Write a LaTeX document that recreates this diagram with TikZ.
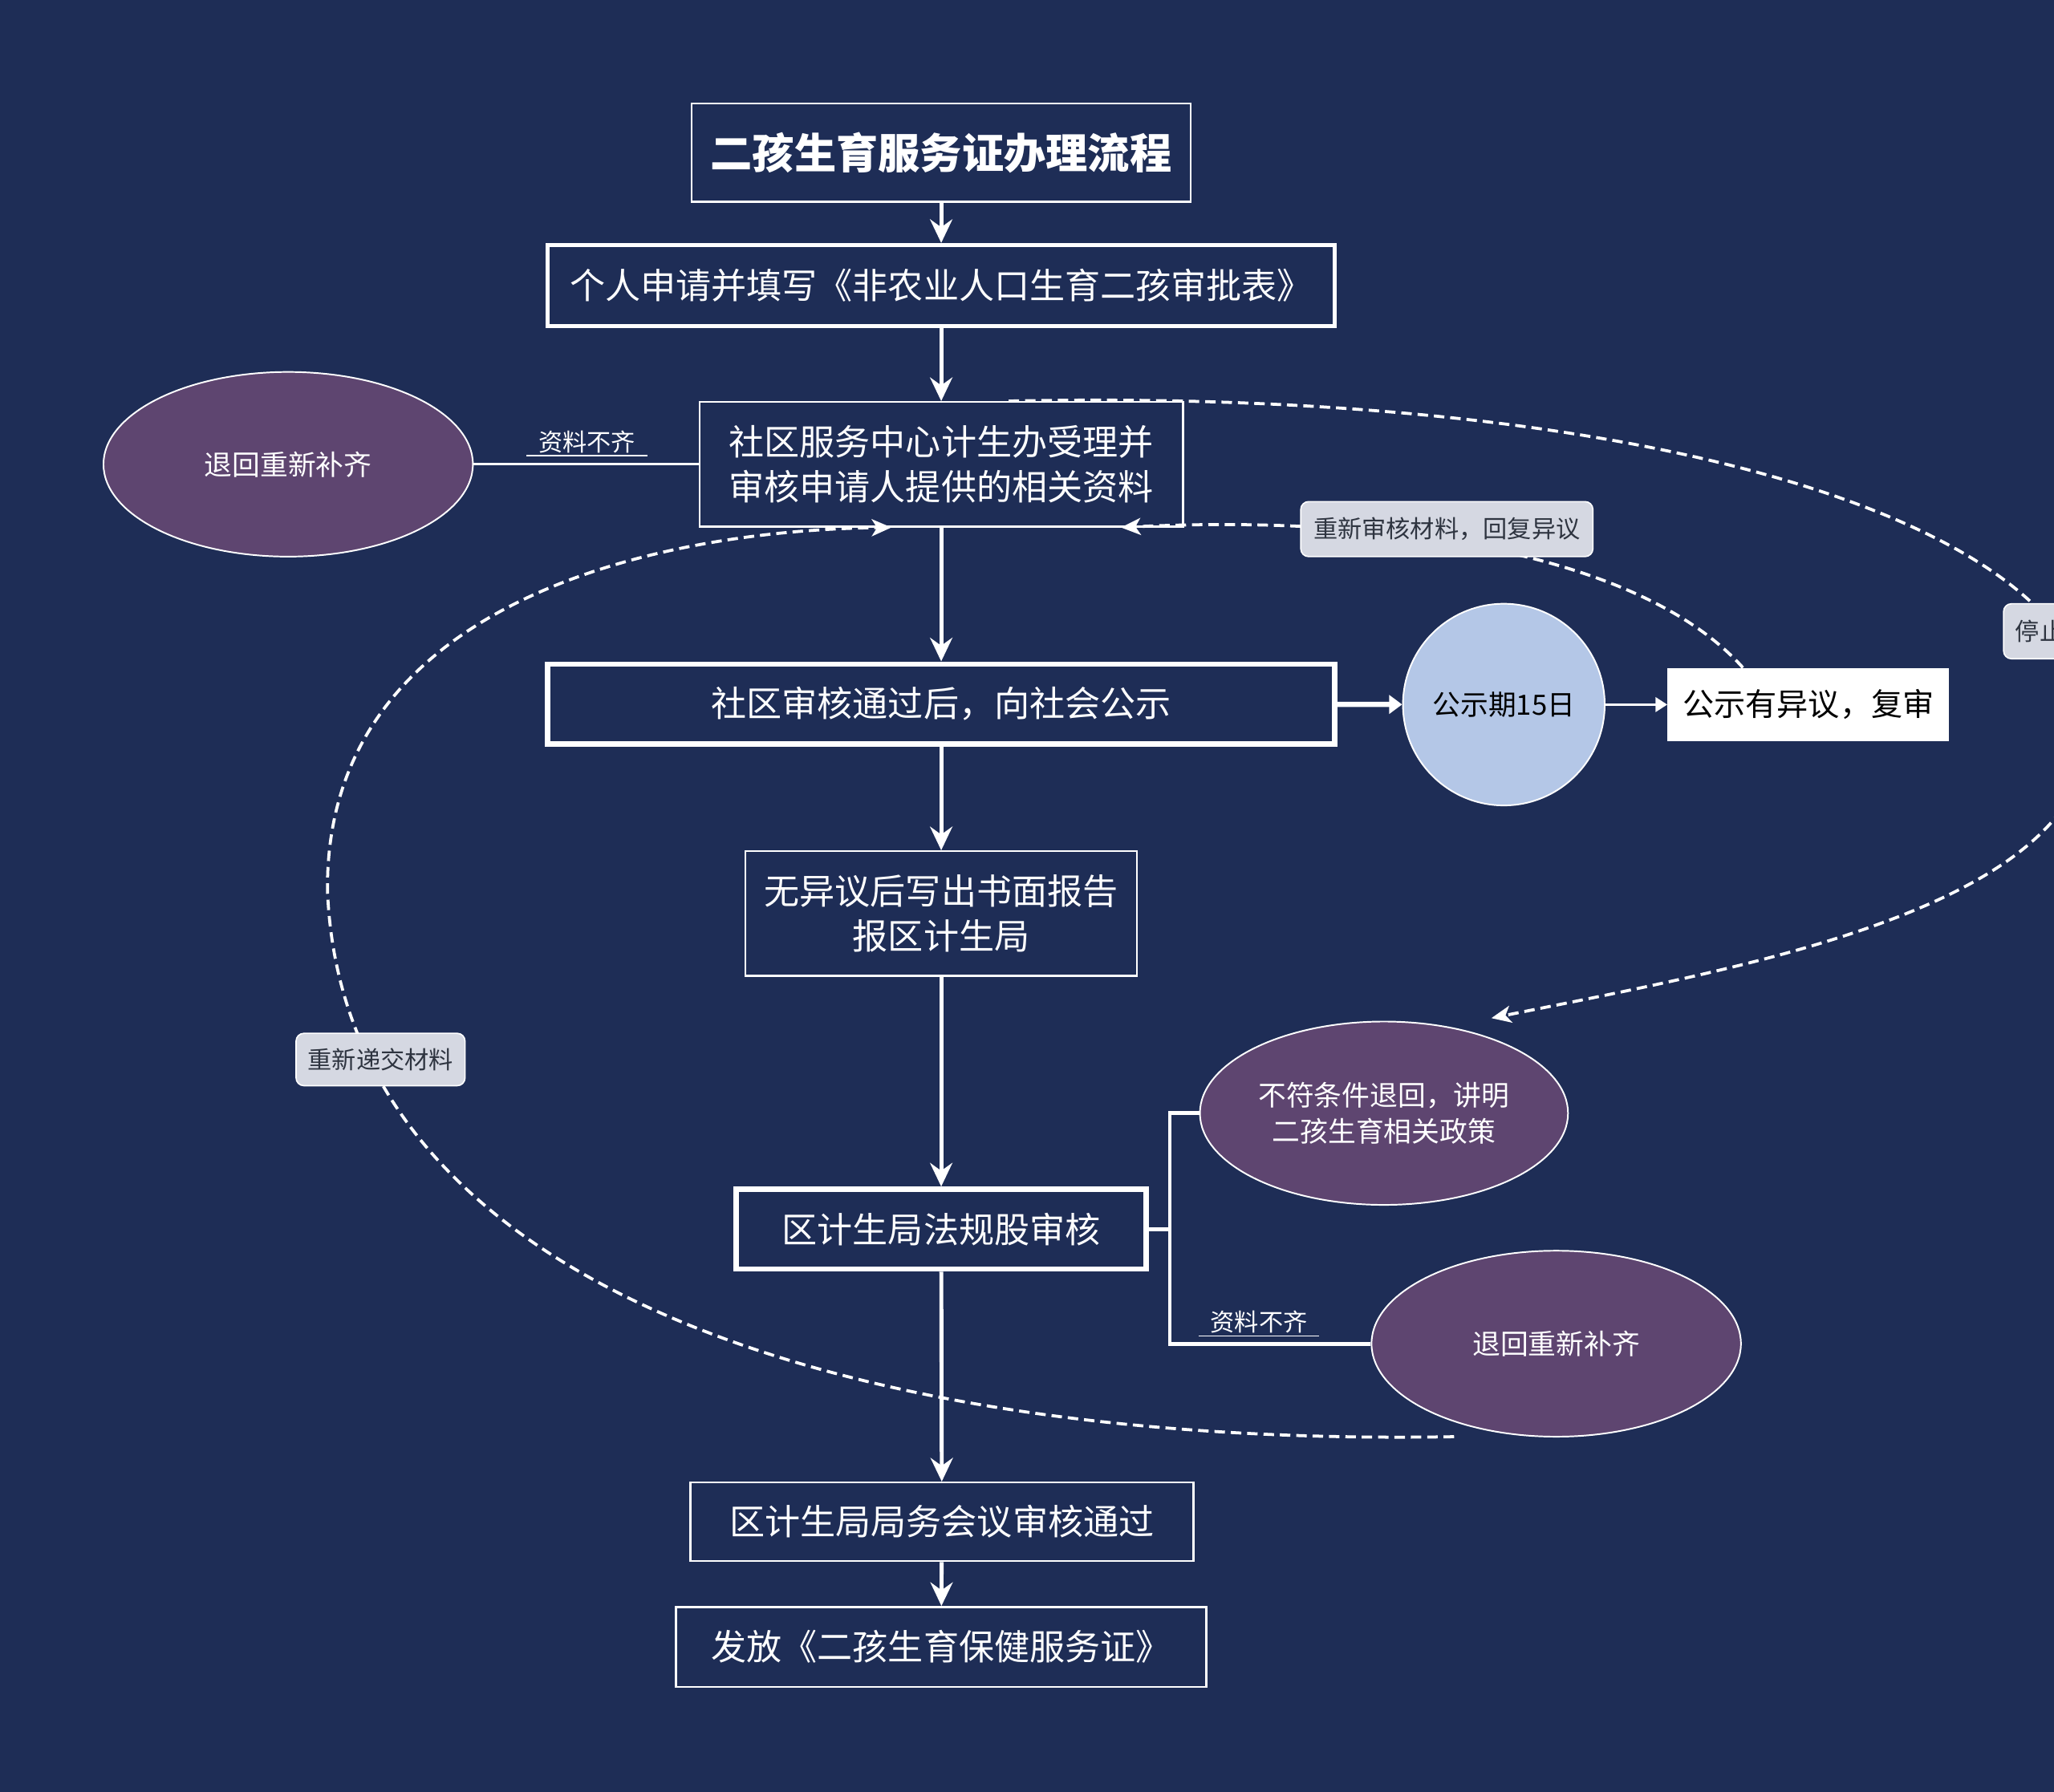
\documentclass[tikz,border=0pt]{standalone}
\usepackage{fontspec}
\setmainfont{Noto Sans CJK SC}
\usetikzlibrary{arrows.meta,calc,shapes.geometric}
\definecolor{navy}{HTML}{1E2D56}
\definecolor{plum}{HTML}{5E4570}
\definecolor{skyblue}{HTML}{B4C7E7}
\definecolor{tagfill}{HTML}{D5D8E2}
\definecolor{tagtext}{HTML}{2E3440}
\tikzset{
  flowbox/.style={draw=white, text=white, line width=1.5pt, align=center, inner sep=0pt,
    font=\fontsize{27}{34}\selectfont},
  oval/.style={ellipse, draw=white, line width=1.2pt, fill=plum, text=white, align=center,
    inner sep=0pt, font=\fontsize{21.3}{28}\selectfont},
  tag/.style={draw=white, line width=1pt, fill=tagfill, text=tagtext, rounded corners=6pt,
    inner sep=0pt, font=\fontsize{18.5}{22}\selectfont},
  undertag/.style={text=white, inner xsep=9pt, inner ysep=2pt, font=\fontsize{18.5}{22}\selectfont},
  flow/.style={draw=white, line width=3pt, -{Stealth[length=18pt,width=17pt,inset=6pt]}},
  link/.style={draw=white, line width=2pt},
  loop/.style={draw=white, line width=2.3pt, dash pattern=on 8pt off 4.5pt,
    -{Stealth[length=15pt,width=13pt,inset=4pt]}}
}
\begin{document}
\begin{tikzpicture}[x=1pt,y=-1pt]
\fill[navy] (0,0) rectangle (1568,1368);
\useasboundingbox (0,0) rectangle (1568,1368);

% main column
\node[flowbox, minimum width=381, minimum height=75, font=\fontsize{32}{40}\selectfont\bfseries] (title) at (718.5,116.5) {二孩生育服务证办理流程};
\node[flowbox, line width=3pt, minimum width=601, minimum height=62] (apply) at (718.5,218) {个人申请并填写《非农业人口生育二孩审批表》};
\node[flowbox, minimum width=369, minimum height=95] (accept) at (718.5,354.5) {社区服务中心计生办受理并\\审核申请人提供的相关资料};
\node[flowbox, line width=4pt, minimum width=601, minimum height=61] (publish) at (718.5,537.5) {社区审核通过后，向社会公示};
\node[flowbox, minimum width=299, minimum height=95] (report) at (718.5,697.5) {无异议后写出书面报告\\报区计生局};
\node[flowbox, line width=4pt, minimum width=313, minimum height=61] (legal) at (718.5,938.5) {区计生局法规股审核};
\node[flowbox, minimum width=384, minimum height=60] (meeting) at (719,1162) {区计生局局务会议审核通过};
\node[flowbox, minimum width=405, minimum height=61] (issue) at (718.5,1257.5) {发放《二孩生育保健服务证》};

\draw[flow] (title) -- (apply);
\draw[flow] (apply) -- (accept);
\draw[flow] (accept) -- (publish);
\draw[flow] (publish) -- (report);
\draw[flow] (report) -- (legal);
\draw[flow] (legal) -- (meeting);
\draw[flow] (meeting) -- (issue);

% publicity branch
\node[oval, fill=skyblue, text=black, minimum width=154, minimum height=154] (period) at (1148,538) {公示期15日};
\node[fill=white, text=black, minimum width=215, minimum height=56, inner sep=0pt,
  font=\fontsize{24}{28}\selectfont] (objection) at (1380.5,538) {公示有异议，复审};
\draw[white, line width=4pt, -{Triangle[length=10pt,width=14pt]}] (publish) -- (period);
\draw[white, line width=2pt, -{Triangle[length=9pt,width=11pt]}] (period) -- (objection);

% returns
\node[oval, minimum width=282, minimum height=141] (returnL) at (220,354.5) {退回重新补齐};
\node[oval, minimum width=281, minimum height=140] (refuse) at (1056.5,850) {不符条件退回，讲明\\二孩生育相关政策};
\node[oval, minimum width=282, minimum height=142] (returnR) at (1188,1026) {退回重新补齐};

\draw[link] (returnL) -- (accept);
\node[undertag, anchor=south] (lackL) at (448,348) {资料不齐};
\draw[white, line width=1pt] (lackL.south west) -- (lackL.south east);

\coordinate (fork) at (893,938.5);
\draw[link, line width=3pt] (legal) -- (fork);
\draw[link, line width=3pt] (refuse.west) -| (fork) |- (returnR.west);
\node[undertag, anchor=south] (lackR) at (961,1020) {资料不齐};
\draw[white, line width=1pt] (lackR.south west) -- (lackR.south east);

% dashed loops
\coordinate (resubmitstart) at (1110,1097);
\draw[loop] (resubmitstart) .. controls (650,1105) and (262,985) .. (250,680)
  .. controls (248,460) and (500,405) .. ($(accept.south)+(-38,0)$);
\draw[loop] ($(accept.north)+(51.5,0)$) .. controls (1250,296) and (1585,395) .. (1597,545)
  .. controls (1603,690) and (1350,735) .. ($(refuse.north)+(82,-2)$);
\draw[loop] ($(objection.north)+(-50,0)$) .. controls (1250,420) and (1050,393) .. ($(accept.south east)+(-48,0)$);

\node[tag, minimum width=223, minimum height=42] (recheck) at (1104.5,404) {重新审核材料，回复异议};
\node[tag, minimum width=129, minimum height=40] (resubmit) at (290.5,809) {重新递交材料};
\node[tag, anchor=west, minimum height=42, inner xsep=9pt] (stop) at (1529,482) {停止};
\end{tikzpicture}
\end{document}
